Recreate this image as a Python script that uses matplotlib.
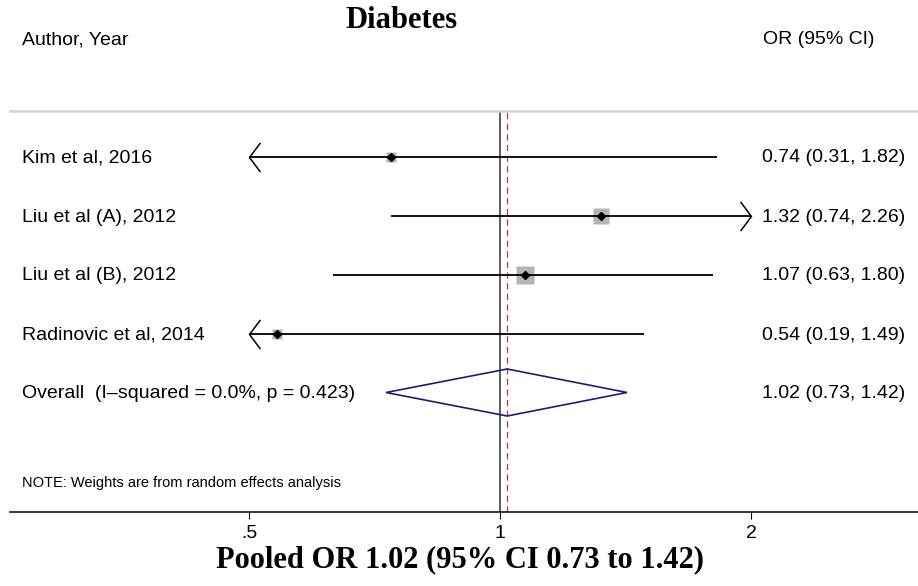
import numpy as np
import matplotlib
matplotlib.use("Agg")
import matplotlib.pyplot as plt
from matplotlib.path import Path
from matplotlib.transforms import blended_transform_factory

# Study-level results
studies = ["Kim et al, 2016", "Liu et al (A), 2012", "Liu et al (B), 2012",
           "Radinovic et al, 2014"]
odds_ratio = [0.74, 1.32, 1.07, 0.54]
ci_low = [0.31, 0.74, 0.63, 0.19]
ci_high = [1.82, 2.26, 1.80, 1.49]
weights = [15.1, 33.9, 38.6, 12.4]

# Pooled (random effects) result
pooled_or = 1.02
pooled_low = 0.73
pooled_high = 1.42
i_squared = 0.0
p_het = 0.423

tick_values = [0.5, 1, 2]
tick_labels = [".5", "1", "2"]

SANS = "Liberation Sans"
SERIF = "Liberation Serif"
W, H = 918, 586
FS = 14

fig = plt.figure(figsize=(W / 100, H / 100), dpi=100)
ax = fig.add_axes([10 / W, 74 / H, 908 / W, 401 / H])
ax.set_xscale("log", base=2)
ax.set_xlim(2 ** (-490 / 251), 2 ** (418 / 251))
ax.set_ylim(512, 111)

row_y = 156.5 + 59 * np.arange(len(studies) + 1)
lo_clip, hi_clip = tick_values[0], tick_values[-1]

left_head = Path([(0.75, 1), (0, 0), (0.75, -1)],
                 [Path.MOVETO, Path.LINETO, Path.LINETO])
right_head = Path([(-0.75, 1), (0, 0), (-0.75, -1)],
                  [Path.MOVETO, Path.LINETO, Path.LINETO])

# reference lines: null effect and pooled estimate
ax.axvline(1, color="#333333", lw=1.1, zorder=1)
ax.axvline(pooled_or, color="#b03a3a", lw=0.9, ls=(0, (5, 3.5)), zorder=1)

for y, est, lo, hi, w in zip(row_y, odds_ratio, ci_low, ci_high, weights):
    ax.plot(est, y, marker="s", ms=2.0 * np.sqrt(w), color="#b4b4b4",
            mec="none", zorder=2)
    ax.plot([max(lo, lo_clip), min(hi, hi_clip)], [y, y], color="black",
            lw=1.3, solid_capstyle="butt", zorder=3)
    if lo < lo_clip:
        ax.plot(lo_clip, y, marker=left_head, ms=21, mfc="none", mec="black",
                mew=1.1, zorder=3)
    if hi > hi_clip:
        ax.plot(hi_clip, y, marker=right_head, ms=21, mfc="none", mec="black",
                mew=1.1, zorder=3)
    ax.plot(est, y, marker="D", ms=4, color="black", zorder=4)

# pooled diamond
yp = row_y[-1]
ax.fill([pooled_low, pooled_or, pooled_high, pooled_or],
        [yp, yp - 23.5, yp, yp + 23.5], facecolor="none",
        edgecolor="#1c1c78", lw=1.2, zorder=3)

# axis styling
for side in ("left", "right"):
    ax.spines[side].set_visible(False)
ax.spines["bottom"].set_linewidth(1.1)
ax.spines["top"].set_color("#d3d3d3")
ax.spines["top"].set_linewidth(1.8)
ax.set_yticks([])
ax.set_xticks(tick_values)
ax.set_xticklabels(tick_labels, fontfamily=SANS, fontsize=FS)
ax.minorticks_off()
ax.tick_params(axis="x", direction="out", length=5, width=0.8, pad=4)

# text columns
tr = blended_transform_factory(fig.transFigure, ax.transData)
labels = studies + [f"Overall  (I\u2013squared = {i_squared:.1f}%, p = {p_het:.3f})"]
values = [f"{e:.2f} ({l:.2f}, {h:.2f})" for e, l, h in zip(odds_ratio, ci_low, ci_high)]
values.append(f"{pooled_or:.2f} ({pooled_low:.2f}, {pooled_high:.2f})")
for y, lab, val in zip(row_y, labels, values):
    ax.text(22 / W, y + 1.5, lab, transform=tr, va="center", ha="left",
            fontfamily=SANS, fontsize=FS, clip_on=False)
    ax.text(905 / W, y + 1.5, val, transform=tr, va="center", ha="right",
            fontfamily=SANS, fontsize=FS, clip_on=False)

ax.text(22 / W, 483, "NOTE: Weights are from random effects analysis",
        transform=tr, va="center", ha="left", fontfamily=SANS, fontsize=10.5)

fig.text(22 / W, 1 - 40 / H, "Author, Year", va="center", ha="left",
         fontfamily=SANS, fontsize=FS)
fig.text(763 / W, 1 - 40 / H, "OR (95% CI)", va="center", ha="left",
         fontfamily=SANS, fontsize=FS)
fig.text(401 / W, 1 - 20 / H, "Diabetes", va="center", ha="center",
         fontfamily=SERIF, fontweight="bold", fontsize=22)
fig.text(460 / W, 1 - 560 / H,
         f"Pooled OR {pooled_or:.2f} (95% CI {pooled_low:.2f} to {pooled_high:.2f})",
         va="center", ha="center", fontfamily=SERIF, fontweight="bold", fontsize=22)

fig.savefig("out.png", dpi=100)
